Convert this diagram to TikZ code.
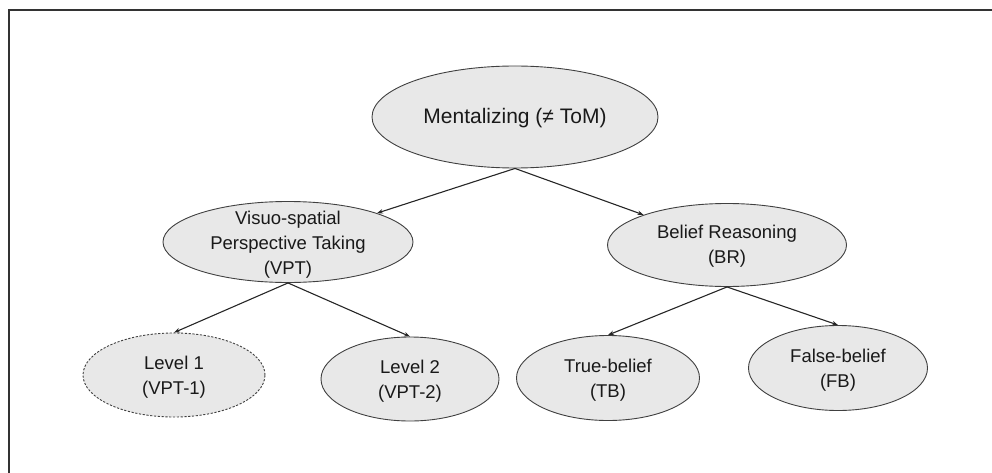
\documentclass[tikz,border=0pt]{standalone}
\usepackage{fontspec}
\setmainfont{Liberation Sans}
\usetikzlibrary{shapes.geometric,arrows.meta}
\definecolor{elfill}{HTML}{E8E8E8}
\definecolor{eldraw}{HTML}{404040}
\definecolor{frame}{HTML}{333333}
\tikzset{
  el/.style={ellipse, draw=eldraw, fill=elfill, line width=0.9pt, inner sep=0pt},
  eldash/.style={el, dash pattern=on 2.2pt off 1.6pt},
  txt/.style={align=center, font=\fontsize{18.5}{25}\selectfont, text=black!90, inner sep=0pt},
  bigtxt/.style={txt, font=\fontsize{21}{25}\selectfont},
  arr/.style={draw=black!85, line width=1.1pt, -{Stealth[length=6pt,width=4.5pt]}},
  framel/.style={draw=frame, line width=1.6pt}
}
\begin{document}
\begin{tikzpicture}[x=1pt,y=-1pt]
\useasboundingbox (0,0) rectangle (992,473);
\coordinate (fbl) at (9,473);
\coordinate (ftl) at (9,10);
\coordinate (ftr) at (992,10);
\draw[framel] (fbl) -- (ftl) -- (ftr);

\node[el, minimum width=286pt, minimum height=102pt] (m) at (515,117) {};
\node[bigtxt] (mt) at (515,118) {Mentalizing (≠ ToM)};

\node[el, minimum width=250pt, minimum height=81pt] (vpt) at (288,242) {};
\node[txt] (vptt) at (288,245) {Visuo-spatial\\Perspective Taking\\(VPT)};

\node[el, minimum width=239pt, minimum height=83pt] (br) at (727,245) {};
\node[txt] (brt) at (727,246) {Belief Reasoning\\(BR)};

\node[eldash, minimum width=182pt, minimum height=84pt] (l1) at (174,375) {};
\node[txt] (l1t) at (174,377) {Level 1\\(VPT-1)};

\node[el, minimum width=178pt, minimum height=84pt] (l2) at (410,379) {};
\node[txt] (l2t) at (410,381) {Level 2\\(VPT-2)};

\node[el, minimum width=183pt, minimum height=85pt] (tb) at (608,378) {};
\node[txt] (tbt) at (608,380) {True-belief\\(TB)};

\node[el, minimum width=179pt, minimum height=85pt] (fb) at (838,368) {};
\node[txt] (fbt) at (838,370) {False-belief\\(FB)};

\draw[arr] (m.south) -- (vpt);
\draw[arr] (m.south) -- (br);
\draw[arr] (vpt.south) -- (l1.north);
\draw[arr] (vpt.south) -- (l2.north);
\draw[arr] (br.south) -- (tb.north);
\draw[arr] (br.south) -- (fb.north);
\end{tikzpicture}
\end{document}
